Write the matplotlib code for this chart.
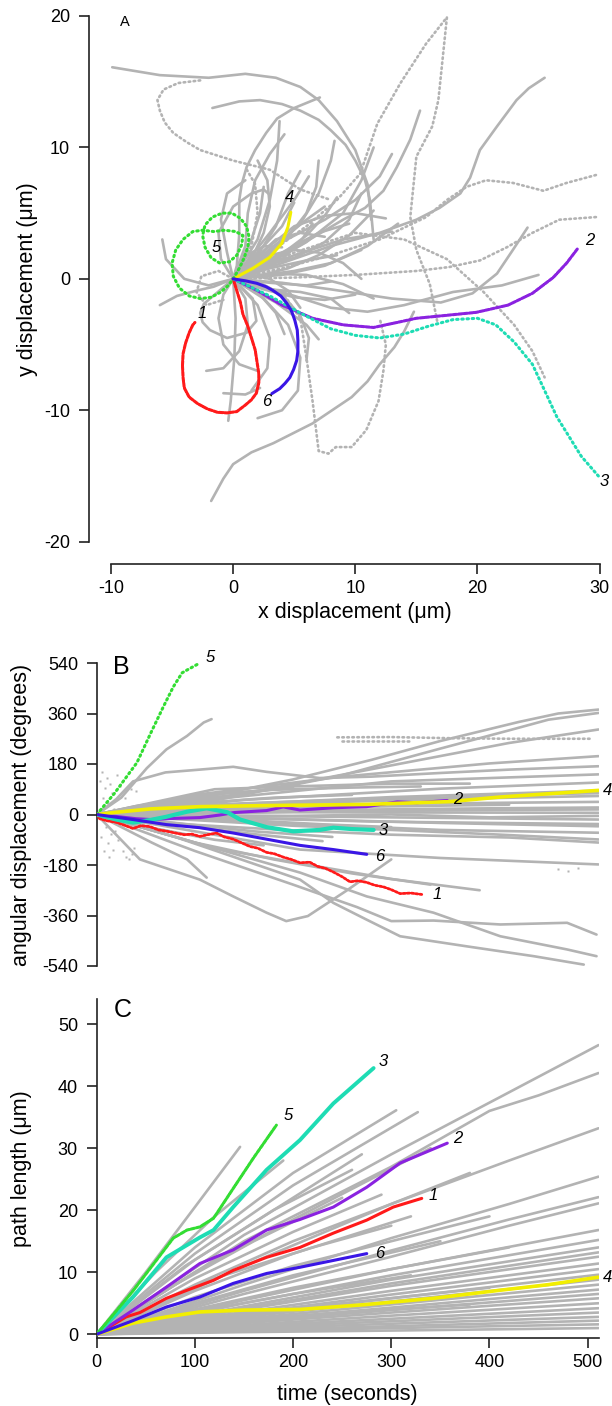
import matplotlib.pyplot as plt

plt.rcParams["font.family"] = ["Liberation Sans", "DejaVu Sans"]
plt.rcParams["axes.unicode_minus"] = False

GRAY = "#b3b3b3"
COLORS = {"1": "#ff1a1a", "2": "#8a22e0", "3": "#1edcb4",
          "4": "#f2ee00", "5": "#33dd33", "6": "#3a16e6"}

# ── Panel A: cell trajectories, x / y displacement (um) ──────────────────────
a1_x = [0, 0.3, 0.6, 0.8, 1.2, 1.5, 1.8, 1.95, 2.1, 2.1, 1.9, 1.5, 1.0, 0.3, -0.5, -1.3, -2.1,
        -2.9, -3.6, -4.0, -4.1, -4.15, -4.1, -3.9, -3.6, -3.3, -3.13]
a1_y = [0, -0.9, -1.8, -2.7, -3.6, -4.5, -5.4, -6.3, -7.2, -7.9, -8.7, -9.2, -9.6, -10.1, -10.2,
        -10.15, -9.9, -9.5, -9.0, -8.3, -7.5, -6.6, -5.7, -4.9, -4.1, -3.5, -3.32]
a2_x = [0, 2.0, 4.0, 6.5, 9.0, 11.5, 15.0, 17.2, 19.9, 22.5, 24.5, 26.2, 27.3, 28.2]
a2_y = [0, -0.9, -2.0, -3.0, -3.5, -3.7, -3.0, -2.8, -2.55, -2.0, -1.1, 0.1, 1.2, 2.3]
a3_x = [0, 3, 5.5, 8, 10, 12, 14, 16, 18, 20, 21.5, 23, 24.5, 25.5, 26.5, 27.5, 28.5, 29.9]
a3_y = [0, -1.3, -2.6, -3.8, -4.3, -4.5, -4.2, -3.6, -3.1, -3.0, -3.5, -4.8, -6.5, -8.5, -10.5, -12.0, -13.5, -15.0]
a4_x = [0, 1.61, 3.0, 3.98, 4.48, 4.72]
a4_y = [0, 0.8, 1.64, 2.7, 3.93, 5.07]
a5_x = [0, 0.5, 0.9, 1.2, 1.3, 1.1, 0.6, -0.1, -0.9, -1.7, -2.3, -2.5, -2.3, -1.8, -1.1, -0.3, 0.3,
        0.7, 0.8, 0.2, -0.7, -1.6, -2.5, -3.3, -4.1, -4.7, -5.0, -4.9, -4.4, -3.6, -2.7, -1.8,
        -1.0, -0.4, 0]
a5_y = [0, 0.8, 1.6, 2.4, 3.2, 4.0, 4.6, 5.0, 5.0, 4.7, 4.1, 3.3, 2.4, 1.6, 1.2, 1.3, 1.8,
        2.6, 3.3, 3.6, 3.7, 3.6, 3.7, 3.6, 3.0, 2.2, 1.2, 0.2, -0.7, -1.3, -1.5, -1.4,
        -1.0, -0.5, 0]
a6_x = [0, 1.0, 1.94, 2.7, 3.25, 3.9, 4.4, 4.8, 5.05, 5.25, 5.3, 5.3, 5.2, 4.95, 4.64, 4.25, 3.82, 3.17]
a6_y = [0, -0.15, -0.34, -0.6, -0.88, -1.3, -1.87, -2.5, -3.16, -3.9, -4.69, -5.5, -6.21, -6.9,
        -7.51, -7.95, -8.35, -8.73]

a_gray_solid = [
    [(-9.9, 16.1), (-6, 15.5), (-2, 15.3), (1, 15.6), (3.5, 15.3), (5.5, 14.6), (7, 13.6),
     (8.5, 12.0), (10, 9.8), (11, 7.2), (11.3, 4.5)],
    [(-1.7, 13.0), (0.5, 13.5), (2.2, 13.6), (4, 13.3), (5.5, 12.8), (7, 12.1), (8, 11.3), (9.2, 10.2),
     (10, 9), (10.8, 7.5), (11.2, 6), (11.5, 3)],
    [(25.5, 15.3), (24.2, 14.5), (23.2, 13.6), (21.6, 11.6), (20.2, 9.8), (19.4, 7.7), (18.6, 6.5),
     (16.9, 5.4), (15.0, 4.5), (12, 3.5), (8, 2.5), (4, 1.2), (0, 0)],
    [(24.1, 3.9), (22.9, 2.2), (21.6, 0.4), (19.6, -1.1), (17, -1.8), (13, -1.5), (8, -0.8), (4, -0.3), (0, 0)],
    [(15.3, 12.8), (14.5, 10.6), (13.4, 8.5), (12.3, 6.7), (10.8, 5.4), (9, 4.5), (5, 2.3), (0, 0)],
    [(7.1, 13.8), (5, 13), (3.6, 12.2), (2.7, 11.1), (1.8, 9.8), (1.1, 8.5), (0.7, 7.2), (0.5, 6),
     (0.5, 3.4), (0.3, 1), (0, 0)],
    [(-1.8, -16.9), (-0.8, -15.2), (0, -14.1), (1.5, -13.2), (3.3, -12.5), (6.5, -11), (9.7, -9),
     (11, -7.8), (12, -6.5), (13.2, -5.2), (14, -4), (14.8, -2.5)],
    [(0, 0), (0.2, -3), (0.1, -6), (-0.2, -9.3), (-0.4, -10.8)],
    [(-6, -2), (-4.6, -1.3), (-3, -0.9), (-1.6, -0.6), (0, 0)],
    [(0, 0), (-1.5, -1.2), (-2.4, -1.9), (-2.7, -2.6), (-2.5, -3.3), (-1.9, -3.9), (-0.5, -4.5),
     (1.1, -4.1), (1.9, -3.2), (1.6, -1.5), (0, 0)],
    [(0, 0), (-1, 1.5), (-1.2, 3.5), (0, 5.5), (1.5, 6.5), (2.5, 6.8), (3, 6.4)],
    [(0, 0), (4, -1), (8, -2.2), (11, -2.5), (14, -2), (18, -1.0), (22, -0.5), (25, 0.3)],
    [(0, 0), (2.5, -1.5), (4.5, -3.5), (5.5, -6), (5.3, -8.5), (4, -10), (2, -10.6)],
    [(0, 0), (2, -2), (3, -4.5), (2.8, -6.8), (1.5, -8.5)],
    [(-0.8, -8.7), (1.0, -8.8), (2.2, -8.3)],
    [(0, 0), (3, 2), (5.5, 4.2), (7, 6.5), (8, 9), (8.3, 10.5)],
    [(0, 0), (2, 1.8), (3.5, 4), (4.5, 6.5), (5.5, 8.2)],
    [(0, 0), (3, 1.2), (6, 2.8), (9, 5.0), (10.5, 7.5), (11.5, 10)],
    [(0, 0), (-0.5, 2), (-1, 4.5), (-0.5, 6.5), (1, 7.5)],
    [(0, 0), (-2, -0.5), (-4, 0), (-5.5, 1.5), (-5.8, 3)],
    [(0, 0), (4, 3), (6, 4.5), (7.5, 5.5)],
    [(0, 0), (3, 0.8), (6, 1.4), (8.5, 1.8)],
    [(0, 0), (3, -0.3), (6, -0.5), (8, -0.2)],
    [(0, 0), (2.5, 2.5), (4, 4), (5, 5.8)],
    [(0, 0), (4, 2), (7, 3.5), (9.5, 4.2)],
    [(0, 0), (4, 0.3), (7.5, 1), (10.5, 2.2)],
    [(0, 0), (3.5, -1.8), (6, -3.5), (7, -4.6)],
    [(0, 0), (5, 1.8), (9, 3), (13, 3.6)],
    [(0, 0), (1.5, 3), (2.2, 5), (2.5, 7)],
    [(0, 0), (3, 3.5), (5, 6), (6.2, 7.8)],
    [(0, 0), (2, -1), (3.5, -2.6), (4.2, -4.2)],
    [(0, 0), (2, 0.8), (4, 1.9), (6, 3.3), (7.5, 4.8), (8.5, 6.2)],
    [(0, 0), (2.5, 1.5), (4.5, 3.2), (6, 5), (6.8, 7), (7, 9)],
    [(0, 0), (2, 0.2), (4.5, 0.8), (7, 1.8), (9.5, 3.3), (11.5, 5.2)],
    [(0, 0), (3, 0.4), (6, 0.3), (9, -0.4), (11.5, -1.5)],
    [(0, 0), (2.5, -0.8), (5, -1.4), (7.5, -1.6), (10, -1.2)],
    [(0, 0), (1.5, 1.5), (2.5, 3.5), (3, 5.5), (2.8, 7.5), (2, 9)],
    [(0, 0), (3, 2.5), (5, 4), (7.5, 4.8), (10, 5), (12.5, 4.6)],
    [(0, 0), (2, 0.5), (4, 1.5), (5.5, 2.8), (6.5, 4.2)],
    [(0, 0), (1.5, 0.3), (3, 0), (4.5, -0.9), (5.5, -2.2)],
    [(0, 0), (2, -0.2), (4, -1.2), (5.5, -2.8), (6.2, -4.5), (6.0, -6.2)],
    [(0, 0), (1, -1.5), (1.2, -3.5), (0.5, -5.5), (-0.8, -6.8), (-2.2, -7)],
    [(0, 0), (-0.8, -1.2), (-1.2, -3), (-0.8, -5), (0.5, -6.5), (2, -7)],
    [(0, 0), (3, 1.8), (5, 2.2), (7, 2), (9, 1.2), (10.5, 0)],
    [(0, 0), (3.5, 3), (5.5, 3.5), (7.5, 3.2)],
    [(0, 0), (1, 2.5), (1.2, 5), (1.8, 7.5), (3, 9.5), (4.2, 11)],
    [(0, 0), (2, 3), (3, 6), (3.6, 9), (3.8, 12)],
    [(0, 0), (5, 0.6), (8, 1.2), (11, 2.5), (13.5, 4.2)],
    [(0, 0), (4, 2.8), (7.5, 4.5), (10, 6), (12, 7.8), (13, 9.5)],
    [(0, 0), (1, 1), (1.5, 2), (2.6, 2.5), (4, 2.4)],
    [(0, 0), (3, -0.8), (5.5, -1.0), (8, -1.5), (9.5, -2.6)],
    [(0, 0), (2.5, 1.0), (5, 1.6), (7.5, 2.8), (9.5, 4.5), (10.5, 6.5)],
]
a_gray_dotted = [
    [(-2.7, 15.1), (-4.5, 14.9), (-5.7, 14.4), (-6.2, 13.6), (-6.0, 12.8), (-5.6, 11.9), (-4.9, 11.1),
     (-3.8, 10.4), (-2.7, 9.8), (0, 9.0), (3.0, 8.3), (5.5, 6.8), (8, 6)],
    [(0, 0), (3, 2), (6, 4), (8.5, 6), (10.4, 8.0), (11.8, 11.8), (13.7, 14.9), (15.8, 17.9),
     (17.5, 19.9), (17.2, 17.2), (16.8, 13.6), (16.3, 11.6), (15.0, 9.3), (14.5, 4.7), (15, 2.2),
     (16.1, -0.4), (16.7, -3.2)],
    [(29.7, 7.9), (27.3, 7.3), (25.4, 6.7), (22.9, 7.3), (20.7, 7.5), (19.1, 7.0), (17.5, 6.0),
     (15.8, 4.7), (12, 3), (8, 1.8), (4, 0.8), (0, 0)],
    [(29.7, 4.7), (26.7, 4.5), (24.5, 3.5), (22.4, 2.4), (20.2, 1.4), (17.7, 0.9), (15, 0.6),
     (10, 0.3), (5, 0.1), (0, 0)],
    [(0, 0), (5, 2), (10, 3.5), (14, 3), (17.5, 1.5), (20.5, -1), (23, -3.5), (24.5, -5.5), (25.5, -7.5)],
    [(0, 0), (4, -1), (5.5, -3), (6, -6), (6.5, -9.3), (7.0, -13.1), (7.8, -13.3), (8.4, -12.8),
     (9.7, -12.8), (10.9, -11.5), (11.9, -9.3), (12.3, -7), (12.5, -5), (12, -3)],
    [(0, 0), (-1.2, 0.6), (-2.6, 0.2), (-3.0, -1.0), (-2.2, -2.0), (-0.8, -1.6)],
    [(0, 0), (1.5, 2.5), (2, 5), (1.8, 7.2), (1, 8.5)],
]

# ── Panel B: angular displacement (degrees) vs time (s) ──────────────────────
b1_t = [0, 3, 10, 20, 28, 37, 45, 54, 63, 72, 80, 89, 97, 105, 113, 122, 130, 139, 147, 156, 164,
        173, 181, 190, 198, 207, 217, 225, 233, 241, 250, 258, 266, 275, 283, 292, 300, 309, 320, 331]
b1_a = [0, -15, -22, -28, -38, -50, -40, -43, -55, -60, -66, -72, -70, -78, -72, -66, -80, -88,
        -100, -114, -120, -135, -140, -152, -160, -172, -170, -185, -192, -205, -222, -240, -236,
        -242, -252, -258, -268, -282, -280, -285]
b2_t = [0, 20, 40, 55, 78, 105, 125, 140, 173, 190, 207, 241, 275, 306, 326, 357]
b2_a = [0, -7, -15, -18, -14, -11, -2, 7, 14, 27, 16, 24, 28, 45, 42, 50]
b3_t = [0, 20, 37, 54, 71, 92, 112, 133, 146, 173, 200, 227, 241, 260, 282]
b3_a = [0, -18, -29, -20, -8, 10, 22, 8, -18, -45, -60, -55, -47, -52, -55]
b4_t = [0, 20, 55, 105, 175, 230, 275, 360, 410, 511]
b4_a = [0, 8, 20, 28, 32, 34, 36, 46, 62, 86]
b5_t = [0, 18, 41, 55, 68, 78, 87, 92, 105]
b5_a = [0, 75, 185, 290, 385, 455, 505, 515, 540]
b6_t = [0, 37, 71, 105, 139, 173, 207, 241, 275]
b6_a = [0, -18, -36, -47, -66, -88, -110, -125, -142]

b_gray = [
    [(0, 0), (25, 60), (51, 165), (71, 232), (92, 280), (109, 328), (117, 340)],
    [(0, 0), (20, 55), (37, 118), (70, 150), (105, 160), (139, 170), (173, 152), (227, 130),
     (280, 135), (350, 148), (420, 160), (511, 172)],
    [(0, 0), (100, 55), (200, 125), (280, 195), (350, 262), (430, 330), (470, 360), (511, 374)],
    [(0, 0), (120, 50), (250, 140), (350, 235), (420, 300), (460, 338), (511, 362)],
    [(0, 0), (150, 75), (300, 175), (420, 255), (511, 303)],
    [(0, 0), (100, 70), (250, 135), (400, 182), (511, 208)],
    [(0, 0), (100, 48), (300, 118), (511, 143)],
    [(0, 0), (150, 52), (350, 92), (511, 114)],
    [(0, 0), (100, 30), (300, 62), (511, 85)],
    [(0, 0), (150, 35), (350, 55), (511, 66)],
    [(0, 0), (120, 20), (300, 38), (511, 45)],
    [(0, 0), (200, 15), (400, 22), (511, 25)],
    [(0, 0), (200, 8), (511, 6)],
    [(0, 0), (150, -5), (350, -12), (511, -18)],
    [(0, 0), (150, -12), (350, -30), (511, -42)],
    [(0, 0), (150, -25), (350, -55), (511, -65)],
    [(0, 0), (200, -40), (400, -70), (511, -89)],
    [(0, 0), (100, -60), (207, -125), (350, -155), (511, -178)],
    [(0, 0), (80, -80), (207, -232), (241, -315), (275, -375), (309, -434), (377, -470),
     (445, -505), (496, -535)],
    [(0, 0), (90, -90), (207, -207), (275, -292), (343, -350), (411, -434), (479, -481), (509, -505)],
    [(0, 0), (44, -160), (105, -232), (139, -292), (173, -350), (193, -380), (215, -362),
     (255, -270), (300, -160)],
    [(0, 0), (100, -130), (200, -250), (265, -330), (300, -380), (343, -378), (411, -392),
     (479, -386), (509, -428)],
    [(0, 0), (56, -100), (92, -160), (112, -225)],
    [(0, 0), (60, 40), (130, 75), (200, 95)],
    [(0, 0), (80, -30), (160, -60), (240, -80)],
    [(0, 0), (50, 20), (120, 45), (180, 60), (260, 70)],
    [(0, 0), (70, -15), (150, -20), (230, -35), (300, -45)],
    [(0, 0), (40, 30), (90, 55), (150, 70)],
    [(0, 0), (60, -50), (120, -90), (170, -110)],
    [(0, 0), (100, 10), (200, 25), (320, 30), (420, 35)],
    [(0, 0), (100, -5), (200, -5), (300, 0), (400, -10), (511, -5)],
    [(0, 0), (120, 90), (200, 100), (300, 110), (380, 110)],
    [(0, 0), (100, -100), (180, -160), (260, -210), (340, -250)],
    [(0, 0), (120, -120), (200, -170), (300, -230), (390, -270)],
    [(0, 0), (60, 25), (150, 40), (250, 52), (350, 60), (450, 72), (511, 76)],
    [(0, 0), (80, 12), (180, 18), (280, 12), (380, 16), (511, 18)],
    [(0, 0), (70, -8), (170, -15), (280, -25), (400, -30), (511, -34)],
    [(0, 0), (90, -35), (190, -55), (300, -72), (420, -82), (511, -100)],
    [(0, 0), (50, 35), (110, 70), (180, 88), (260, 96), (330, 100)],
    [(0, 0), (40, -20), (100, -45), (160, -70), (230, -95)],
]
b_gray_dotted = [
    [(245, 275), (300, 276), (360, 272), (420, 270), (505, 270)],
    [(250, 262), (320, 262)],
]
b_gray_dots_t = [3, 4, 5, 6, 7, 8, 9, 10, 11, 12, 13, 14, 15, 16, 17, 18, 19, 21, 22, 24, 26, 27,
                 29, 30, 33, 35, 36, 38, 40, 470, 480, 490]
b_gray_dots_a = [120, -80, 150, 60, -130, 95, -45, 130, -100, 40, -150, 110, -70, 75, -125, 20,
                 -60, 140, -90, 100, -30, -130, 60, -150, -160, 90, -140, -120, 85, -195, -200, -190]

# ── Panel C: path length (um) vs time (s) ────────────────────────────────────
c1_t = [0, 30, 44, 71, 92, 119, 139, 173, 207, 241, 275, 302, 331]
c1_l = [0, 2.8, 3.5, 5.8, 7.1, 8.7, 10.3, 12.4, 14.0, 16.3, 18.4, 20.5, 21.9]
c2_t = [0, 37, 71, 105, 139, 173, 207, 241, 275, 309, 357]
c2_l = [0, 3.9, 7.6, 11.4, 13.6, 16.8, 18.5, 20.5, 23.7, 27.6, 30.8]
c3_t = [0, 37, 71, 105, 119, 139, 173, 207, 241, 282]
c3_l = [0, 6.0, 12.4, 15.6, 16.8, 20.5, 26.5, 31.3, 37.2, 42.9]
c4_t = [0, 37, 71, 105, 150, 207, 275, 343, 411, 460, 511]
c4_l = [0, 1.8, 2.8, 3.6, 3.9, 4.0, 4.8, 5.8, 7.1, 8.0, 9.2]
c5_t = [0, 37, 78, 92, 105, 119, 139, 160, 183]
c5_l = [0, 7.0, 15.5, 16.8, 17.3, 18.7, 23.5, 28.5, 33.7]
c6_t = [0, 37, 71, 105, 139, 173, 207, 241, 275]
c6_l = [0, 2.2, 4.4, 6.0, 8.2, 9.8, 10.8, 11.9, 13.0]

c_gray = [
    [(0, 0), (150, 16), (300, 29), (420, 39), (511, 46.6)],
    [(0, 0), (150, 15), (300, 27), (400, 36), (450, 38.5), (511, 42.1)],
    [(0, 0), (150, 11), (300, 21), (420, 28), (511, 33.2)],
    [(0, 0), (150, 8), (300, 15.5), (420, 21), (511, 25.4)],
    [(0, 0), (150, 7), (300, 13.5), (420, 18.5), (511, 22.1)],
    [(0, 0), (150, 6.5), (300, 12.5), (420, 17.5), (511, 21.1)],
    [(0, 0), (150, 5.5), (300, 10.5), (511, 16.8)],
    [(0, 0), (150, 5), (300, 9.5), (511, 15.2)],
    [(0, 0), (150, 4.5), (300, 8.8), (511, 14.0)],
    [(0, 0), (150, 4.2), (300, 8.2), (511, 13.2)],
    [(0, 0), (150, 4), (300, 7.8), (511, 12.5)],
    [(0, 0), (150, 3.6), (300, 7), (511, 11.4)],
    [(0, 0), (150, 3.3), (300, 6.4), (511, 10.5)],
    [(0, 0), (150, 3), (300, 5.8), (511, 9.6)],
    [(0, 0), (150, 2.8), (300, 5.3), (511, 8.8)],
    [(0, 0), (150, 2.5), (300, 4.8), (511, 8.0)],
    [(0, 0), (150, 2.2), (300, 4.3), (511, 7.2)],
    [(0, 0), (150, 2), (300, 3.9), (511, 6.5)],
    [(0, 0), (150, 1.8), (300, 3.5), (511, 5.8)],
    [(0, 0), (150, 1.5), (300, 3), (511, 5.0)],
    [(0, 0), (150, 1.3), (300, 2.5), (511, 4.2)],
    [(0, 0), (150, 1.1), (300, 2.1), (511, 3.5)],
    [(0, 0), (150, 0.9), (300, 1.7), (511, 2.8)],
    [(0, 0), (150, 0.7), (300, 1.3), (511, 2.2)],
    [(0, 0), (150, 0.5), (300, 1), (511, 1.6)],
    [(0, 0), (150, 0.35), (300, 0.6), (511, 1.0)],
    [(0, 0), (50, 10), (100, 20.5), (146, 30.2)],
    [(0, 0), (60, 10), (120, 19), (190, 28)],
    [(0, 0), (100, 14), (200, 26), (305, 36.1)],
    [(0, 0), (100, 13), (200, 24), (327, 35.8)],
    [(0, 0), (100, 12), (200, 22), (270, 29)],
    [(0, 0), (100, 10), (200, 18.5), (340, 30)],
    [(0, 0), (80, 8), (160, 15), (250, 22)],
    [(0, 0), (100, 8), (200, 15), (300, 21), (380, 26)],
    [(0, 0), (100, 7), (200, 13), (320, 19)],
    [(0, 0), (100, 6), (200, 11), (300, 15), (400, 19)],
    [(0, 0), (100, 5), (200, 9.5), (350, 15)],
    [(0, 0), (100, 4), (200, 7.5), (300, 10.5), (420, 14)],
    [(0, 0), (80, 3), (200, 6.5), (320, 9.5)],
    [(0, 0), (100, 2.5), (250, 5), (400, 7.5)],
    [(0, 0), (100, 1.8), (250, 3.5), (380, 4.8)],
    [(0, 0), (90, 11), (180, 20), (260, 26.5)],
    [(0, 0), (100, 9), (200, 16.5), (290, 22.5)],
    [(0, 0), (110, 8.5), (220, 14), (300, 17.5)],
]

# ── figure ───────────────────────────────────────────────────────────────────
W, H = 612, 1406
fig = plt.figure(figsize=(W / 100, H / 100), dpi=100)


def px_axes(left, top, right, bottom):
    return fig.add_axes([left / W, 1 - bottom / H, (right - left) / W, (bottom - top) / H])


def style(ax):
    for s in ("top", "right"):
        ax.spines[s].set_visible(False)
    for s in ("left", "bottom"):
        ax.spines[s].set_color("#222222")
        ax.spines[s].set_linewidth(1.2)
    ax.tick_params(direction="out", length=7, width=1.2, color="#222222", labelsize=13)
    ax.tick_params(axis="x", pad=4.5)
    ax.tick_params(axis="y", pad=6.5)


def draw(ax, traces, dotted=False):
    for tr in traces:
        xs = [p[0] for p in tr]
        ys = [p[1] for p in tr]
        if dotted:
            ax.plot(xs, ys, color=GRAY, lw=1.9, ls=(0, (0.6, 1.3)),
                    dash_capstyle="round", zorder=1)
        else:
            ax.plot(xs, ys, color=GRAY, lw=1.9, solid_capstyle="round",
                    solid_joinstyle="round", zorder=1)


def colored(ax, x, y, key, ls="-", lw=2.2):
    if ls == "-":
        ax.plot(x, y, color=COLORS[key], lw=lw, solid_capstyle="round",
                solid_joinstyle="round", zorder=3)
    else:
        ax.plot(x, y, color=COLORS[key], lw=lw, ls=ls, dash_capstyle="round", zorder=3)


def tag(ax, x, y, s):
    ax.text(x, y, s, fontsize=12, style="italic", ha="center", va="center", zorder=4)


dots = (0, (0.5, 1.2))
dense = (0, (1.2, 0.6))
LABEL_FS = 15.5

# Panel A
axA = px_axes(111, 16, 599.6, 541.7)
style(axA)
axA.spines["left"].set_position(("outward", 16))
axA.spines["bottom"].set_position(("outward", 16))
draw(axA, a_gray_solid)
draw(axA, a_gray_dotted, dotted=True)
colored(axA, a1_x, a1_y, "1", ls=dense)
colored(axA, a2_x, a2_y, "2", ls=dense)
colored(axA, a3_x, a3_y, "3", ls=dots)
colored(axA, a4_x, a4_y, "4")
colored(axA, a5_x, a5_y, "5", ls=dots)
colored(axA, a6_x, a6_y, "6")
axA.set_xlim(-10, 30)
axA.set_ylim(-20, 20)
axA.set_xticks([-10, 0, 10, 20, 30])
axA.set_yticks([-20, -10, 0, 10, 20])
axA.set_xlabel("x displacement (\u03bcm)", fontsize=LABEL_FS)
axA.set_ylabel("y displacement (\u03bcm)", fontsize=LABEL_FS)
axA.xaxis.set_label_coords(0.5, -0.115)
axA.yaxis.set_label_coords(-0.150, 0.5)
for s, x, y in [("1", -2.55, -2.6), ("2", 29.2, 2.9), ("3", 30.4, -15.4),
                ("4", 4.6, 6.2), ("5", -1.35, 2.4), ("6", 2.75, -9.3)]:
    tag(axA, x, y, s)

# Panel B
axB = px_axes(96.7, 663, 598.5, 966)
style(axB)
axB.spines["bottom"].set_visible(False)
axB.tick_params(axis="x", bottom=False, labelbottom=False)
draw(axB, b_gray)
draw(axB, b_gray_dotted, dotted=True)
axB.plot(b_gray_dots_t, b_gray_dots_a, ls="none", marker="s", ms=2, color=GRAY, mec="none", zorder=1)
colored(axB, b1_t, b1_a, "1", ls=(0, (0.8, 0.7)), lw=2)
colored(axB, b2_t, b2_a, "2")
colored(axB, b3_t, b3_a, "3", lw=3)
colored(axB, b4_t, b4_a, "4", lw=2.6)
colored(axB, b5_t, b5_a, "5", ls=dots)
colored(axB, b6_t, b6_a, "6")
axB.set_xlim(0, 511)
axB.set_ylim(-540, 540)
axB.set_yticks([-540, -360, -180, 0, 180, 360, 540])
axB.set_ylabel("angular displacement (degrees)", fontsize=LABEL_FS)
axB.yaxis.set_label_coords(-0.129, 0.5)
for s, x, y in [("5", 116, 560), ("4", 520, 86), ("2", 368, 53),
                ("3", 292, -57), ("6", 288, -150), ("1", 347, -285)]:
    tag(axB, x, y, s)

# Panel C
axC = px_axes(96.7, 999.2, 598.5, 1338)
style(axC)
draw(axC, c_gray)
colored(axC, c1_t, c1_l, "1")
colored(axC, c2_t, c2_l, "2")
colored(axC, c3_t, c3_l, "3", lw=2.8)
colored(axC, c4_t, c4_l, "4", lw=2.6)
colored(axC, c5_t, c5_l, "5", ls=dense)
colored(axC, c6_t, c6_l, "6")
axC.set_xlim(0, 511)
axC.set_ylim(-0.6, 54)
axC.set_xticks([0, 100, 200, 300, 400, 500])
axC.set_yticks([0, 10, 20, 30, 40, 50])
axC.set_xlabel("time (seconds)", fontsize=LABEL_FS)
axC.set_ylabel("path length (\u03bcm)", fontsize=LABEL_FS)
axC.xaxis.set_label_coords(0.5, -0.135)
axC.yaxis.set_label_coords(-0.129, 0.5)
for s, x, y in [("5", 195, 35.3), ("3", 292, 43.9), ("2", 368, 31.6),
                ("1", 343, 22.4), ("6", 288, 13.0), ("4", 520, 9.2)]:
    tag(axC, x, y, s)

fig.text(125 / W, 1 - 22 / H, "A", fontsize=10.5, ha="center", va="center")
fig.text(121 / W, 1 - 667 / H, "B", fontsize=18, ha="center", va="center")
fig.text(123 / W, 1 - 1010 / H, "C", fontsize=18, ha="center", va="center")

fig.savefig("out.png", dpi=100)
